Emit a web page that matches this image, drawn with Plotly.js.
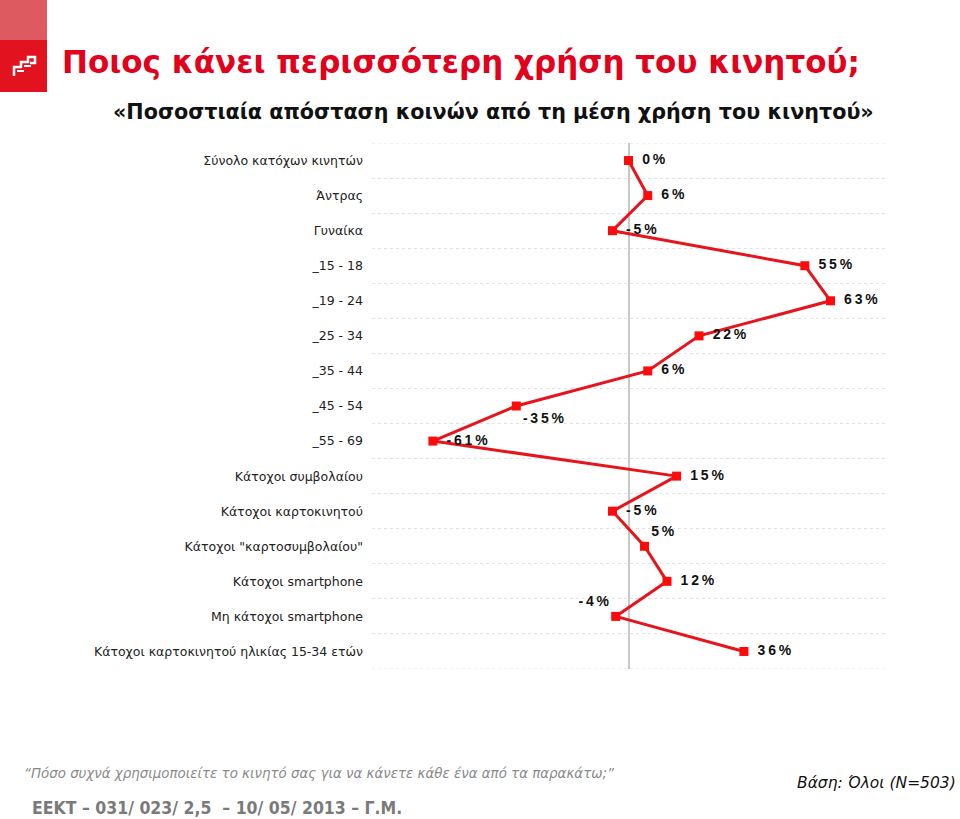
<!DOCTYPE html>
<html>
<head>
<meta charset="utf-8">
<script src="https://cdn.plot.ly/plotly-3.0.1.min.js"></script>
<style>
  html, body { margin: 0; padding: 0; background: #fff; }
  #chart { width: 960px; height: 819px; }
</style>
</head>
<body>
<div id="chart"></div>
<script>
const categories = [
  "Σύνολο κατόχων κινητών",
  "Άντρας",
  "Γυναίκα",
  "_15 - 18",
  "_19 - 24",
  "_25 - 34",
  "_35 - 44",
  "_45 - 54",
  "_55 - 69",
  "Κάτοχοι συμβολαίου",
  "Κάτοχοι καρτοκινητού",
  "Κάτοχοι \"καρτοσυμβολαίου\"",
  "Κάτοχοι smartphone",
  "Μη κάτοχοι smartphone",
  "Κάτοχοι καρτοκινητού ηλικίας 15-34 ετών"
];
const values = [0, 6, -5, 55, 63, 22, 6, -35, -61, 15, -5, 5, 12, -4, 36];
const labelPositions = [
  "middle right", "middle right", "middle right", "middle right", "middle right",
  "middle right", "middle right", "bottom right", "middle right", "middle right",
  "middle right", "top right", "middle right", "top left", "middle right"
];

const titleText = "Ποιος κάνει περισσότερη χρήση του κινητού;";
const subtitleText = "«Ποσοστιαία απόσταση κοινών από τη μέση χρήση του κινητού»";
const questionText = "“Πόσο συχνά χρησιμοποιείτε το κινητό σας για να κάνετε κάθε ένα από τα παρακάτω;”";
const baseText = "Βάση: Όλοι (N=503)";
const codeText = "ΕΕΚΤ – 031/ 023/ 2,5 &nbsp;– 10/ 05/ 2013 – Γ.Μ.";

const W = 960, H = 819;
const M = { l: 372, r: 75, t: 143, b: 150 };
const PW = W - M.l - M.r, PH = H - M.t - M.b;
const px = x => (x - M.l) / PW;
const py = y => 1 - (y - M.t) / PH;

const idx = categories.map((_, i) => i);
const spaced = (v, pos) => {
  const s = (String(v) + "%").split("").join("\u2009");
  return pos === "middle right" ? "\u2002" + s : s;
};

const trace = {
  type: "scatter",
  mode: "lines+markers+text",
  x: values,
  y: idx,
  text: values.map((v, i) => spaced(v, labelPositions[i])),
  textposition: labelPositions,
  textfont: { family: "Liberation Sans, Arial, sans-serif", size: 14, color: "#111", weight: 700 },
  line: { color: "#e8141c", width: 3 },
  marker: { symbol: "square", size: 9, color: "#ff0a0a" },
  cliponaxis: false,
  hoverinfo: "skip",
  showlegend: false
};

const edgeLine = y => ({
  type: "line", xref: "paper", yref: "y", x0: 0, x1: 1, y0: y, y1: y,
  line: { color: "#e2e2e2", width: 1, dash: "dot" }, layer: "below"
});

const layout = {
  width: W, height: H,
  margin: M,
  paper_bgcolor: "#fff",
  plot_bgcolor: "#fff",
  showlegend: false,
  xaxis: {
    range: [-80, 80],
    showgrid: false,
    showticklabels: false,
    ticks: "",
    zeroline: true,
    zerolinecolor: "#c8c8c8",
    zerolinewidth: 2,
    showline: false,
    fixedrange: true
  },
  yaxis: {
    range: [categories.length - 0.5, -0.5],
    tickmode: "array",
    tickvals: idx,
    ticktext: categories,
    ticks: "",
    ticklabelstandoff: 8,
    showgrid: false,
    zeroline: false,
    showline: false,
    tickfont: { family: "DejaVu Sans, Verdana, sans-serif", size: 12.5, color: "#222" },
    minor: {
      tickvals: idx.map(i => i + 0.5),
      showgrid: true,
      gridcolor: "#e2e2e2",
      griddash: "dot",
      gridwidth: 1,
      ticks: ""
    },
    fixedrange: true
  },
  shapes: [
    edgeLine(-0.5),
    edgeLine(categories.length - 0.5),
    { type: "rect", xref: "paper", yref: "paper", x0: px(0), x1: px(47), y0: py(0), y1: py(40),
      fillcolor: "#dc5a60", line: { width: 0 }, layer: "above" },
    { type: "rect", xref: "paper", yref: "paper", x0: px(0), x1: px(47), y0: py(40), y1: py(92),
      fillcolor: "#e3121f", line: { width: 0 }, layer: "above" },
    { type: "path", xref: "paper", yref: "paper",
      path: `M${px(14)},${py(76)} L${px(14)},${py(67)} L${px(21)},${py(67)} L${px(21)},${py(62)} L${px(28)},${py(62)} L${px(28)},${py(57)} L${px(35)},${py(57)} L${px(35)},${py(63)} L${px(30)},${py(63)}`,
      line: { color: "#fff", width: 2.5 }, layer: "above" },
    { type: "path", xref: "paper", yref: "paper",
      path: `M${px(17)},${py(71)} L${px(24)},${py(71)} M${px(24)},${py(66)} L${px(31)},${py(66)}`,
      line: { color: "#fff", width: 2 }, layer: "above" }
  ],
  annotations: [
    { xref: "paper", yref: "paper", x: px(60), y: py(62), xanchor: "left", yanchor: "middle",
      text: titleText, showarrow: false,
      font: { family: "DejaVu Sans, Verdana, sans-serif", size: 31, color: "#e3001b", weight: 700 } },
    { xref: "paper", yref: "paper", x: px(493), y: py(112), xanchor: "center", yanchor: "middle",
      text: subtitleText, showarrow: false,
      font: { family: "DejaVu Sans, Verdana, sans-serif", size: 20.7, color: "#111", weight: 700 } },
    { xref: "paper", yref: "paper", x: px(22), y: py(773), xanchor: "left", yanchor: "middle",
      text: "<i>" + questionText + "</i>", showarrow: false,
      font: { family: "DejaVu Sans, Verdana, sans-serif", size: 13.4, color: "#8a8a8a" } },
    { xref: "paper", yref: "paper", x: px(958), y: py(783), xanchor: "right", yanchor: "middle",
      text: "<i>" + baseText + "</i>", showarrow: false,
      font: { family: "DejaVu Sans, Verdana, sans-serif", size: 15.5, color: "#111" } },
    { xref: "paper", yref: "paper", x: px(30), y: py(808), xanchor: "left", yanchor: "middle",
      text: codeText, showarrow: false,
      font: { family: "DejaVu Sans Condensed, Liberation Sans Narrow, Arial Narrow, sans-serif", size: 17.5, color: "#7a7a7a", weight: 700 } }
  ]
};

Plotly.newPlot("chart", [trace], layout, { displayModeBar: false, staticPlot: true });
</script>
</body>
</html>
